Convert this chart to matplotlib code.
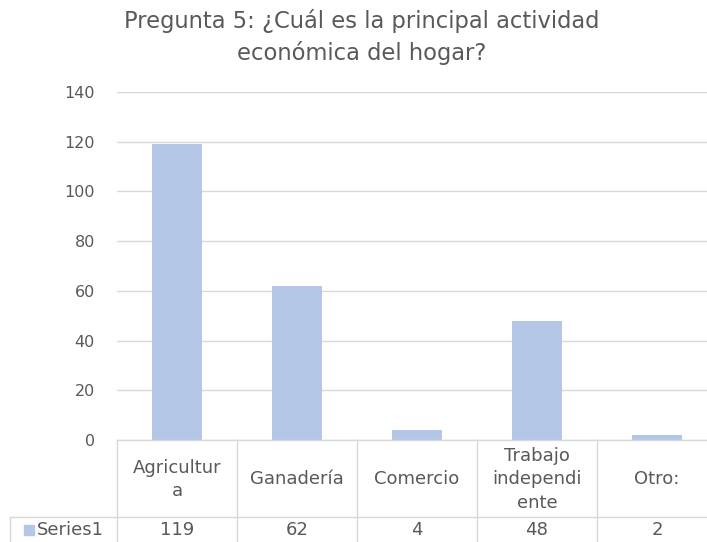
"""Pregunta 5 bar chart with Excel-style data table underneath."""

import matplotlib
matplotlib.use("Agg")
import matplotlib.pyplot as plt
from matplotlib.lines import Line2D
from matplotlib.patches import Rectangle
from matplotlib.transforms import blended_transform_factory

TITLE = "Pregunta 5: ¿Cuál es la principal actividad\neconómica del hogar?"
CATEGORIES = ["Agricultura", "Ganadería", "Comercio", "Trabajo independiente", "Otro:"]
CELL_LABELS = ["Agricultur\na", "Ganadería", "Comercio", "Trabajo\nindependi\nente", "Otro:"]
VALUES = [119, 62, 4, 48, 2]
SERIES_NAME = "Series1"
Y_TICKS = [0, 20, 40, 60, 80, 100, 120, 140]

BAR_COLOR = "#b4c7e7"
GRID_COLOR = "#d9d9d9"
TEXT_COLOR = "#595959"
W, H = 707, 542

plt.rcParams["font.family"] = ["DejaVu Sans"]

fig = plt.figure(figsize=(W / 100, H / 100), dpi=100)
fig.patch.set_facecolor("white")


def px(x0, y0, x1, y1):
    return [x0 / W, 1 - y1 / H, (x1 - x0) / W, (y1 - y0) / H]


ax = fig.add_axes(px(117, 92, 717, 440))
x = list(range(len(VALUES)))
ax.bar(x, VALUES, width=0.41, color=BAR_COLOR, zorder=2)
ax.set_xlim(-0.5, len(VALUES) - 0.5)
ax.set_ylim(0, 140)
ax.set_yticks(Y_TICKS)
ax.set_xticks([])
ax.yaxis.grid(True, color=GRID_COLOR, linewidth=1)
ax.set_axisbelow(True)
for side in ("top", "right", "left", "bottom"):
    ax.spines[side].set_visible(False)
ax.tick_params(axis="y", length=0, pad=16, labelsize=11.5, labelcolor=TEXT_COLOR)

fig.text(362 / W, 1 - 37 / H, TITLE, ha="center", va="center",
         fontsize=16.3, color=TEXT_COLOR, linespacing=1.45)

# data table below the axis, x in data units, y in pixels
tr = blended_transform_factory(ax.transData, fig.transFigure)


def fy(ypx):
    return 1 - ypx / H


top, mid, bot = 440, 517, 548
line_kw = dict(color=GRID_COLOR, linewidth=1, transform=tr, clip_on=False)
fig_lines = [
    Line2D([-0.5, 4.5], [fy(top), fy(top)], **line_kw),
    Line2D([-0.5, 4.5], [fy(mid), fy(mid)], **line_kw),
]
for i in range(len(VALUES) + 1):
    fig_lines.append(Line2D([i - 0.5, i - 0.5], [fy(top), fy(bot)], **line_kw))
for ln in fig_lines:
    ax.add_artist(ln)

# left header cell for the series name
fig.add_artist(Line2D([10 / W, 117 / W], [fy(mid), fy(mid)],
                      color=GRID_COLOR, linewidth=1))
fig.add_artist(Line2D([10 / W, 10 / W], [fy(mid), fy(bot)],
                      color=GRID_COLOR, linewidth=1))
fig.add_artist(Rectangle((24 / W, fy(535)), 10 / W, 10 / H,
                         color=BAR_COLOR, transform=fig.transFigure))
fig.text(37 / W, fy(530), SERIES_NAME, ha="left", va="center",
         fontsize=13, color=TEXT_COLOR)

for i, (lab, val) in enumerate(zip(CELL_LABELS, VALUES)):
    ax.text(i, fy((top + mid) / 2 + 1), lab, transform=tr, ha="center", va="center",
            fontsize=13, color=TEXT_COLOR, linespacing=1.4)
    ax.text(i, fy(530), str(val), transform=tr, ha="center", va="center",
            fontsize=13, color=TEXT_COLOR)

fig.savefig("out.png", dpi=100)
